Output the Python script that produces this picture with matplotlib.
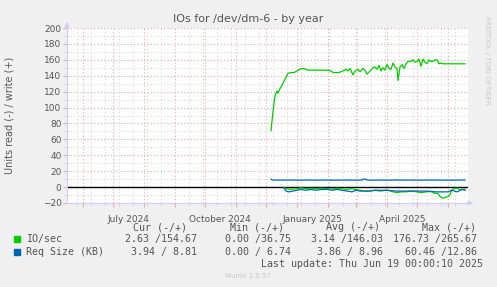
import datetime as dt
import matplotlib
matplotlib.use("Agg")
import matplotlib.pyplot as plt
import matplotlib.dates as mdates
from matplotlib.ticker import FixedLocator

# data
wr_io_dates = ["2024-12-06", "2024-12-08", "2024-12-10", "2024-12-12", "2024-12-13", "2024-12-15",
               "2024-12-17", "2024-12-19", "2024-12-21", "2024-12-23", "2024-12-26", "2024-12-29",
               "2025-01-01", "2025-01-05", "2025-01-08", "2025-01-12", "2025-01-18", "2025-01-25",
               "2025-02-01", "2025-02-04", "2025-02-06", "2025-02-12", "2025-02-16", "2025-02-19",
               "2025-02-21", "2025-02-23", "2025-02-26", "2025-02-28", "2025-03-03", "2025-03-05",
               "2025-03-08", "2025-03-10", "2025-03-12", "2025-03-15", "2025-03-18", "2025-03-20",
               "2025-03-22", "2025-03-24", "2025-03-26", "2025-03-28", "2025-03-30", "2025-04-01",
               "2025-04-03", "2025-04-05", "2025-04-07", "2025-04-09", "2025-04-11", "2025-04-12",
               "2025-04-14", "2025-04-16", "2025-04-18", "2025-04-20", "2025-04-22", "2025-04-25",
               "2025-04-27", "2025-04-29", "2025-05-01", "2025-05-03", "2025-05-05", "2025-05-07",
               "2025-05-09", "2025-05-11", "2025-05-13", "2025-05-15", "2025-05-17", "2025-05-19",
               "2025-05-21", "2025-05-23", "2025-05-25", "2025-05-27", "2025-06-01", "2025-06-05",
               "2025-06-10", "2025-06-15", "2025-06-18"]
wr_io = [71, 95, 115, 121, 118, 124, 128, 133, 138, 143, 144, 144,
         146, 149, 149, 147, 147, 147, 147, 146, 144, 144, 146, 148,
         146, 149, 141, 146, 148, 145, 149, 147, 142, 146, 150, 151,
         148, 153, 146, 150, 147, 154, 149, 148, 156, 151, 149, 134,
         151, 154, 149, 155, 158, 158, 160, 157, 158, 161, 152, 161,
         157, 155, 160, 158, 158, 160, 160, 155, 156, 155, 155, 155,
         155, 155, 155]

wr_sz_dates = ["2024-12-06", "2024-12-08", "2025-03-07", "2025-03-08", "2025-03-11", "2025-03-12",
               "2025-04-09", "2025-04-10", "2025-04-11", "2025-06-18"]
wr_sz = [9.8, 8.8, 8.8, 10.0, 10.0, 8.8, 8.8, 9.4, 8.8, 8.8]

rd_io_dates = ["2024-12-19", "2024-12-22", "2024-12-25", "2024-12-28", "2025-01-01", "2025-01-05",
               "2025-01-10", "2025-01-15", "2025-01-20", "2025-01-25", "2025-02-01", "2025-02-05",
               "2025-02-10", "2025-02-15", "2025-02-20", "2025-02-25", "2025-03-01", "2025-03-05",
               "2025-03-10", "2025-03-15", "2025-03-20", "2025-03-25", "2025-04-01", "2025-04-05",
               "2025-04-10", "2025-04-15", "2025-04-20", "2025-04-25", "2025-05-01", "2025-05-05",
               "2025-05-10", "2025-05-15", "2025-05-19", "2025-05-22", "2025-05-24", "2025-05-27",
               "2025-05-29", "2025-06-01", "2025-06-03", "2025-06-05", "2025-06-08", "2025-06-11",
               "2025-06-13", "2025-06-16", "2025-06-18"]
rd_io = [1, 2, 3, 2.5, 2, 1, 2, 1.5, 2, 1.5, 2, 2.5,
         1.5, 2, 3, 2, 3, 4, 5, 5, 4, 5, 4, 5,
         7, 6, 6, 5, 6, 7, 6, 5.5, 8, 8, 12, 14,
         13, 12, 9, 3.5, 1.5, 1.5, 4, 2.5, 3]

rd_sz_dates = ["2024-12-19", "2024-12-21", "2024-12-24", "2024-12-28", "2025-01-01", "2025-01-05",
               "2025-01-10", "2025-01-15", "2025-01-20", "2025-01-25", "2025-02-01", "2025-02-05",
               "2025-02-10", "2025-02-15", "2025-02-20", "2025-02-25", "2025-03-01", "2025-03-05",
               "2025-03-10", "2025-03-15", "2025-03-20", "2025-04-01", "2025-04-10", "2025-04-20",
               "2025-05-01", "2025-05-10", "2025-05-20", "2025-05-25", "2025-06-01", "2025-06-05",
               "2025-06-10", "2025-06-15", "2025-06-18"]
rd_sz = [1, 5, 6, 5, 4, 3, 4, 3, 4, 3, 3, 4,
         3, 4, 5, 6, 4, 5, 5, 5, 4, 4, 5, 5,
         5, 5, 6, 6, 6, 4, 6, 3, 4]

yticks = [-20, 0, 20, 40, 60, 80, 100, 120, 140, 160, 180, 200]
month_labels = ["July 2024", "October 2024", "January 2025", "April 2025"]
label_dates = ["2024-07-16", "2024-10-16", "2025-01-16", "2025-04-16"]

headers = ["Cur (-/+)", "Min (-/+)", "Avg (-/+)", "Max (-/+)"]
io_vals = ["2.63 /154.67", "0.00 /36.75", "3.14 /146.03", "176.73 /265.67"]
sz_vals = ["3.94 / 8.81", "0.00 / 6.74", "3.86 / 8.96", "60.46 /12.86"]


def d(s):
    return dt.datetime.strptime(s, "%Y-%m-%d")


green = "#00cc00"
blue = "#0066b3"
bg = "#f0f0f0"
txt = "#555555"

W, H = 497, 287
fig = plt.figure(figsize=(W / 100, H / 100), dpi=100, facecolor=bg)
ax = fig.add_axes([67 / W, (H - 203) / H, 401 / W, 175 / H])
ax.set_facecolor("white")

ax.set_xlim(d("2024-05-16"), d("2025-06-21"))
ax.set_ylim(-20, 200)

# grid: month starts in red, every two weeks in grey
biweekly = [mdates.date2num(d("2024-05-26") + dt.timedelta(days=14 * i)) for i in range(30)]
ax.xaxis.set_major_locator(mdates.MonthLocator())
ax.xaxis.set_minor_locator(FixedLocator(biweekly))
ax.set_yticks(yticks)
ax.set_yticks(range(-10, 200, 20), minor=True)
ax.grid(which="minor", color="#d8d8d8", linestyle=(0, (1, 2)), linewidth=0.8)
ax.grid(which="major", color="#f0a8a8", linestyle=(0, (1, 2)), linewidth=0.8)
ax.set_axisbelow(True)
ax.xaxis.set_major_formatter(plt.NullFormatter())
ax.tick_params(axis="x", which="major", length=3, color="#f0a8a8", labelsize=6.5)
ax.tick_params(axis="x", which="minor", length=2, color="#d0d0d0")
ax.tick_params(axis="y", which="major", length=3, color="#f0a8a8", labelsize=6.5, labelcolor=txt, pad=1)
ax.tick_params(axis="y", which="minor", length=2, color="#d0d0d0")
for lab, ds in zip(month_labels, label_dates):
    ax.text(d(ds), -0.07, lab, transform=ax.get_xaxis_transform(), ha="center", va="top",
            fontsize=6.5, color=txt)

for s in ["top", "right"]:
    ax.spines[s].set_visible(False)
for s in ["left", "bottom"]:
    ax.spines[s].set_color("#ccccff")
    ax.spines[s].set_linewidth(0.8)
ax.annotate("", xy=(0, 1.05), xytext=(0, 0.98), xycoords="axes fraction",
            arrowprops=dict(arrowstyle="-|>", color="#ccccff", lw=0.8, mutation_scale=7), annotation_clip=False)
ax.annotate("", xy=(1.02, 0), xytext=(0.99, 0), xycoords="axes fraction",
            arrowprops=dict(arrowstyle="-|>", color="#ccccff", lw=0.8, mutation_scale=7), annotation_clip=False)

ax.axhline(0, color="black", linewidth=1)

ax.plot([d(s) for s in wr_io_dates], wr_io, color=green, linewidth=0.9)
ax.plot([d(s) for s in rd_io_dates], [-v for v in rd_io], color=green, linewidth=0.9)
ax.plot([d(s) for s in wr_sz_dates], wr_sz, color=blue, linewidth=0.9)
ax.plot([d(s) for s in rd_sz_dates], [-v for v in rd_sz], color=blue, linewidth=0.9)

fig.text(248 / W, 1 - 19 / H, "IOs for /dev/dm-6 - by year", ha="center", va="center",
         fontsize=8, color=txt)
fig.text(10 / W, 1 - 115 / H, "Units read (-) / write (+)", rotation=90, ha="center", va="center",
         fontsize=7, color=txt)
fig.text(487 / W, 1 - 60 / H, "RRDTOOL / TOBI OETIKER", rotation=270, ha="center", va="center",
         fontsize=5, color="#c8c8c8")

# legend
mono = "DejaVu Sans Mono"
rights = [197, 291, 383, 477]
for r, h in zip([187, 284, 380, 476], headers):
    fig.text(r / W, 1 - 227 / H, h, ha="right", va="center", fontsize=7.2, family=mono, color=txt)
for y, name, col, vals in [(239, "IO/sec", green, io_vals), (252, "Req Size (KB)", blue, sz_vals)]:
    fig.patches.append(plt.Rectangle((14 / W, 1 - (y + 3) / H), 6 / W, 6 / H, color=col,
                                     transform=fig.transFigure, figure=fig))
    fig.text(26 / W, 1 - y / H, name, ha="left", va="center", fontsize=7.2, family=mono, color=txt)
    for r, v in zip(rights, vals):
        fig.text(r / W, 1 - y / H, v, ha="right", va="center", fontsize=7.2, family=mono, color=txt)
fig.text(483 / W, 1 - 264 / H, "Last update: Thu Jun 19 00:00:10 2025", ha="right", va="center",
         fontsize=7.2, family=mono, color=txt)
fig.text(248 / W, 1 - 276 / H, "Munin 2.0.57", ha="center", va="center", fontsize=5, color="#c8c8c8")

fig.savefig("out.png", dpi=100, facecolor=bg)
